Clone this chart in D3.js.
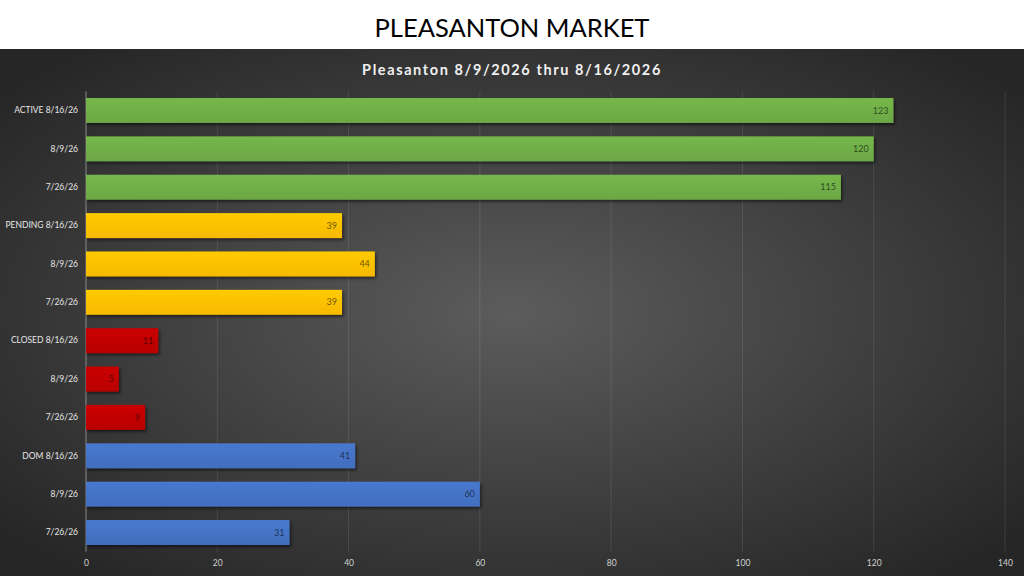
<!DOCTYPE html>
<html>
<head>
<meta charset="utf-8">
<script src="https://cdn.jsdelivr.net/npm/d3@7"></script>
<style>
  html, body { margin: 0; padding: 0; background: #fff; }
  svg { display: block; font-family: Lato, "Open Sans", sans-serif; }
</style>
</head>
<body>
<div id="chart"></div>
<script>
// chart data
var categories = ["ACTIVE 8/16/26", "8/9/26", "7/26/26",
                  "PENDING 8/16/26", "8/9/26", "7/26/26",
                  "CLOSED 8/16/26", "8/9/26", "7/26/26",
                  "DOM 8/16/26", "8/9/26", "7/26/26"];
var values = [123, 120, 115, 39, 44, 39, 11, 5, 9, 41, 60, 31];
var groups = ["ACTIVE", "ACTIVE", "ACTIVE", "PENDING", "PENDING", "PENDING",
              "CLOSED", "CLOSED", "CLOSED", "DOM", "DOM", "DOM"];
var groupNames = ["ACTIVE", "PENDING", "CLOSED", "DOM"];
var groupColors = ["#70ad47", "#ffc000", "#c00000", "#4472c4"];
var xTicks = [0, 20, 40, 60, 80, 100, 120, 140];

var width = 1024, height = 576;
var headerH = 49;

var svg = d3.select("#chart").append("svg")
    .attr("width", width)
    .attr("height", height);

var defs = svg.append("defs");

//dark radial background of the chart area
var bg = defs.append("radialGradient")
    .attr("id", "bgGrad")
    .attr("cx", "50%").attr("cy", "50%").attr("r", "65%");
bg.append("stop").attr("offset", "0%").attr("stop-color", "#5c5c5c");
bg.append("stop").attr("offset", "100%").attr("stop-color", "#262626");

var shadow = defs.append("filter")
    .attr("id", "barShadow")
    .attr("x", "-5%").attr("y", "-20%")
    .attr("width", "115%").attr("height", "160%");
shadow.append("feDropShadow")
    .attr("dx", 1.5).attr("dy", 2)
    .attr("stdDeviation", 1.5)
    .attr("flood-color", "#000")
    .attr("flood-opacity", 0.55);

var color = d3.scaleOrdinal().domain(groupNames).range(groupColors);

//one soft vertical gradient per bar colour
groupNames.forEach(function (g) {
    var c = d3.color(color(g));
    var lg = defs.append("linearGradient")
        .attr("id", "grad-" + g)
        .attr("x1", 0).attr("y1", 0).attr("x2", 0).attr("y2", 1);
    lg.append("stop").attr("offset", "0%").attr("stop-color", c.brighter(0.15));
    lg.append("stop").attr("offset", "100%").attr("stop-color", c.darker(0.1));
});

//white header with the slide title
svg.append("rect")
    .attr("width", width).attr("height", headerH)
    .attr("fill", "#fff");
svg.append("text")
    .attr("x", width / 2).attr("y", 37)
    .attr("text-anchor", "middle")
    .attr("font-size", 25.5)
    .attr("fill", "#000")
    .text("PLEASANTON MARKET");

svg.append("rect")
    .attr("y", headerH)
    .attr("width", width).attr("height", height - headerH)
    .attr("fill", "url(#bgGrad)");

svg.append("text")
    .attr("x", width / 2).attr("y", 75)
    .attr("text-anchor", "middle")
    .attr("font-size", 14.5)
    .attr("font-weight", "bold")
    .attr("letter-spacing", 1.6)
    .attr("fill", "#f0f0f0")
    .text("Pleasanton 8/9/2026 thru 8/16/2026");

var x = d3.scaleLinear().domain([0, 140]).range([86, 1005]);
var y = d3.scaleBand()
    .domain(d3.range(categories.length))
    .range([91.3, 551.7])
    .paddingInner(0.35)
    .paddingOuter(0.175);

//gridlines
svg.append("g")
    .selectAll("line")
    .data(xTicks)
    .enter()
    .append("line")
    .attr("x1", function (d) { return x(d); })
    .attr("x2", function (d) { return x(d); })
    .attr("y1", y.range()[0])
    .attr("y2", y.range()[1])
    .attr("stroke", function (d) { return d === 0 ? "#8a8a8a" : "#ffffff"; })
    .attr("stroke-opacity", function (d) { return d === 0 ? 1 : 0.1; })
    .attr("stroke-width", 1);

//x axis tick labels
var xAxis = d3.axisBottom(x).tickValues(xTicks).tickSize(0).tickPadding(8);
var xg = svg.append("g")
    .attr("transform", "translate(0," + y.range()[1] + ")")
    .call(xAxis);
xg.select(".domain").remove();
xg.selectAll("text")
    .attr("font-family", "Lato, sans-serif")
    .attr("font-size", 8.5)
    .attr("fill", "#d0d0d0");

//category labels
var yAxis = d3.axisLeft(y)
    .tickFormat(function (i) { return categories[i]; })
    .tickSize(0).tickPadding(8);
var yg = svg.append("g")
    .attr("transform", "translate(" + x(0) + ",0)")
    .call(yAxis);
yg.select(".domain").remove();
yg.selectAll("text")
    .attr("font-family", "Lato, sans-serif")
    .attr("font-size", 8.5)
    .attr("fill", "#e6e6e6");

//bars
svg.append("g")
    .selectAll("rect")
    .data(values)
    .enter()
    .append("rect")
    .attr("x", x(0))
    .attr("y", function (d, i) { return y(i); })
    .attr("width", function (d) { return x(d) - x(0); })
    .attr("height", y.bandwidth())
    .attr("fill", function (d, i) { return "url(#grad-" + groups[i] + ")"; })
    .attr("filter", "url(#barShadow)");

//value labels inside the bar end
svg.append("g")
    .selectAll("text")
    .data(values)
    .enter()
    .append("text")
    .attr("x", function (d) { return x(d) - 5; })
    .attr("y", function (d, i) { return y(i) + y.bandwidth() / 2; })
    .attr("dy", "0.35em")
    .attr("text-anchor", "end")
    .attr("font-size", 9)
    .attr("fill", "#000")
    .attr("fill-opacity", 0.6)
    .text(function (d) { return d; });
</script>
</body>
</html>
